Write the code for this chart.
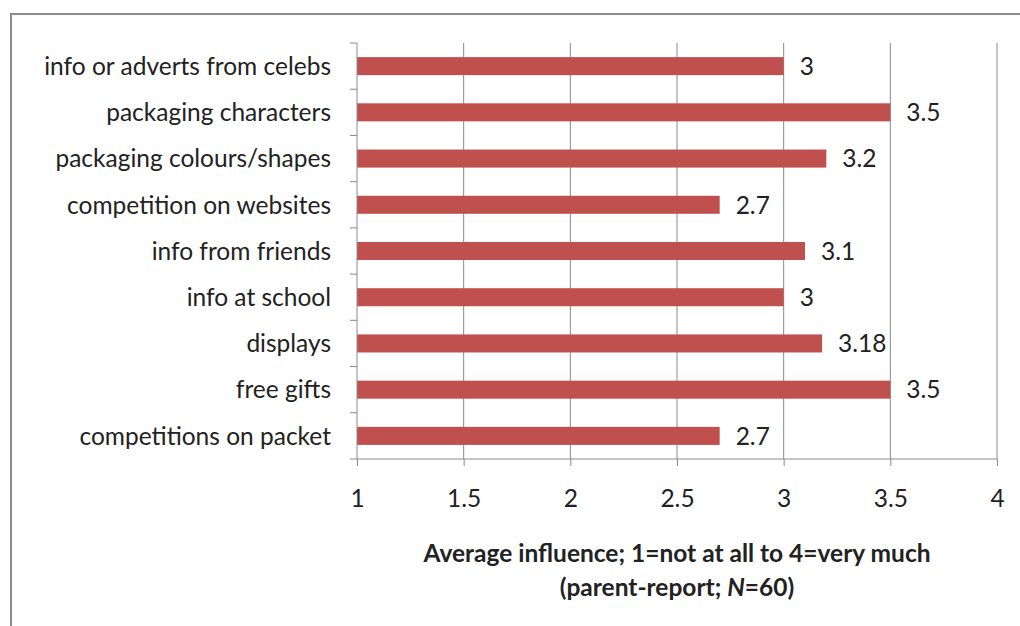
<!DOCTYPE html>
<html>
<head>
<meta charset="utf-8">
<script src="https://cdn.jsdelivr.net/npm/d3@7"></script>
<style>
  body { margin: 0; background: #fff; }
  text { font-family: Lato, "Open Sans", sans-serif; fill: #222; }
</style>
</head>
<body>
<div id="wrapper"></div>
<script>
const categories = [
  "info or adverts from celebs",
  "packaging characters",
  "packaging colours/shapes",
  "competition on websites",
  "info from friends",
  "info at school",
  "displays",
  "free gifts",
  "competitions on packet",
];
const values = [3, 3.5, 3.2, 2.7, 3.1, 3, 3.18, 3.5, 2.7];
const xTicks = [1, 1.5, 2, 2.5, 3, 3.5, 4];

const dataset = categories.map((c, i) => ({ category: c, value: values[i] }));

const xAccessor = (d) => d.value;
const yAccessor = (d) => d.category;

const fontSize = "24.5px";

const dimensions = {
  width: 1020,
  height: 626,
  margins: { top: 43, right: 23, bottom: 167, left: 357 },
};
dimensions.boundedWidth =
  dimensions.width - dimensions.margins.left - dimensions.margins.right;
dimensions.boundedHeight =
  dimensions.height - dimensions.margins.top - dimensions.margins.bottom;

const wrapper = d3
  .select("#wrapper")
  .append("svg")
  .attr("width", dimensions.width)
  .attr("height", dimensions.height);

// outer frame (runs off the right and bottom edges)
wrapper
  .append("rect")
  .attr("x", 11)
  .attr("y", 14)
  .attr("width", 1030)
  .attr("height", 640)
  .attr("fill", "none")
  .attr("stroke", "#8a8a8a")
  .attr("stroke-width", 2);

const bounds = wrapper
  .append("g")
  .attr(
    "transform",
    `translate(${dimensions.margins.left}, ${dimensions.margins.top})`
  );

// scales
const xScale = d3
  .scaleLinear()
  .domain([1, 4])
  .range([0, dimensions.boundedWidth]);

const yScale = d3
  .scaleBand()
  .domain(categories)
  .range([0, dimensions.boundedHeight])
  .paddingInner(0.61)
  .paddingOuter(0.305);

const bandStep = dimensions.boundedHeight / categories.length;

// gridlines
bounds
  .append("g")
  .selectAll("line")
  .data(xTicks.slice(1))
  .join("line")
  .attr("x1", (d) => xScale(d))
  .attr("x2", (d) => xScale(d))
  .attr("y1", 0)
  .attr("y2", dimensions.boundedHeight)
  .attr("stroke", "#8a8a8a")
  .attr("stroke-width", 1);

// bars
bounds
  .append("g")
  .selectAll("rect")
  .data(dataset)
  .join("rect")
  .attr("x", xScale(1))
  .attr("y", (d) => yScale(yAccessor(d)))
  .attr("width", (d) => xScale(xAccessor(d)) - xScale(1))
  .attr("height", yScale.bandwidth())
  .attr("fill", "#C0504D");

// value labels
bounds
  .append("g")
  .selectAll("text")
  .data(dataset)
  .join("text")
  .attr("x", (d) => xScale(xAccessor(d)) + 16)
  .attr("y", (d) => yScale(yAccessor(d)) + yScale.bandwidth() / 2)
  .attr("dy", "0.36em")
  .style("font-size", fontSize)
  .text((d) => d.value);

// x axis
const xAxisGenerator = d3
  .axisBottom(xScale)
  .tickValues(xTicks)
  .tickSize(7)
  .tickPadding(24)
  .tickFormat(d3.format("~g"));

const xAxis = bounds
  .append("g")
  .attr("transform", `translate(0, ${dimensions.boundedHeight})`)
  .call(xAxisGenerator);
xAxis.select(".domain").attr("stroke", "#8a8a8a").attr("d", `M0,0H${dimensions.boundedWidth}`);
xAxis.selectAll(".tick line").attr("stroke", "#8a8a8a");
xAxis
  .selectAll(".tick text")
  .style("font-size", fontSize)
  .style("font-family", "Lato, 'Open Sans', sans-serif")
  .attr("fill", "#222");

// y axis: ticks between categories
const yAxis = bounds.append("g");
yAxis
  .append("line")
  .attr("x1", 0)
  .attr("x2", 0)
  .attr("y1", 0)
  .attr("y2", dimensions.boundedHeight)
  .attr("stroke", "#8a8a8a");
yAxis
  .selectAll(".ytick")
  .data(d3.range(categories.length + 1))
  .join("line")
  .attr("class", "ytick")
  .attr("x1", -7)
  .attr("x2", 0)
  .attr("y1", (i) => i * bandStep)
  .attr("y2", (i) => i * bandStep)
  .attr("stroke", "#8a8a8a");
yAxis
  .selectAll(".ylabel")
  .data(categories)
  .join("text")
  .attr("class", "ylabel")
  .attr("x", -26)
  .attr("y", (d) => yScale(d) + yScale.bandwidth() / 2)
  .attr("dy", "0.36em")
  .attr("text-anchor", "end")
  .style("font-size", fontSize)
  .text((d) => d);

// axis title
const title = bounds
  .append("text")
  .attr("x", dimensions.boundedWidth / 2)
  .attr("y", 519)
  .attr("text-anchor", "middle")
  .style("font-size", fontSize)
  .style("font-weight", "bold");
title.append("tspan").attr("x", dimensions.boundedWidth / 2).text("Average influence; 1=not at all to 4=very much");
const line2 = title.append("tspan").attr("x", dimensions.boundedWidth / 2).attr("dy", 34);
line2.append("tspan").text("(parent-report; ");
line2.append("tspan").style("font-style", "italic").text("N");
line2.append("tspan").text("=60)");
</script>
</body>
</html>
